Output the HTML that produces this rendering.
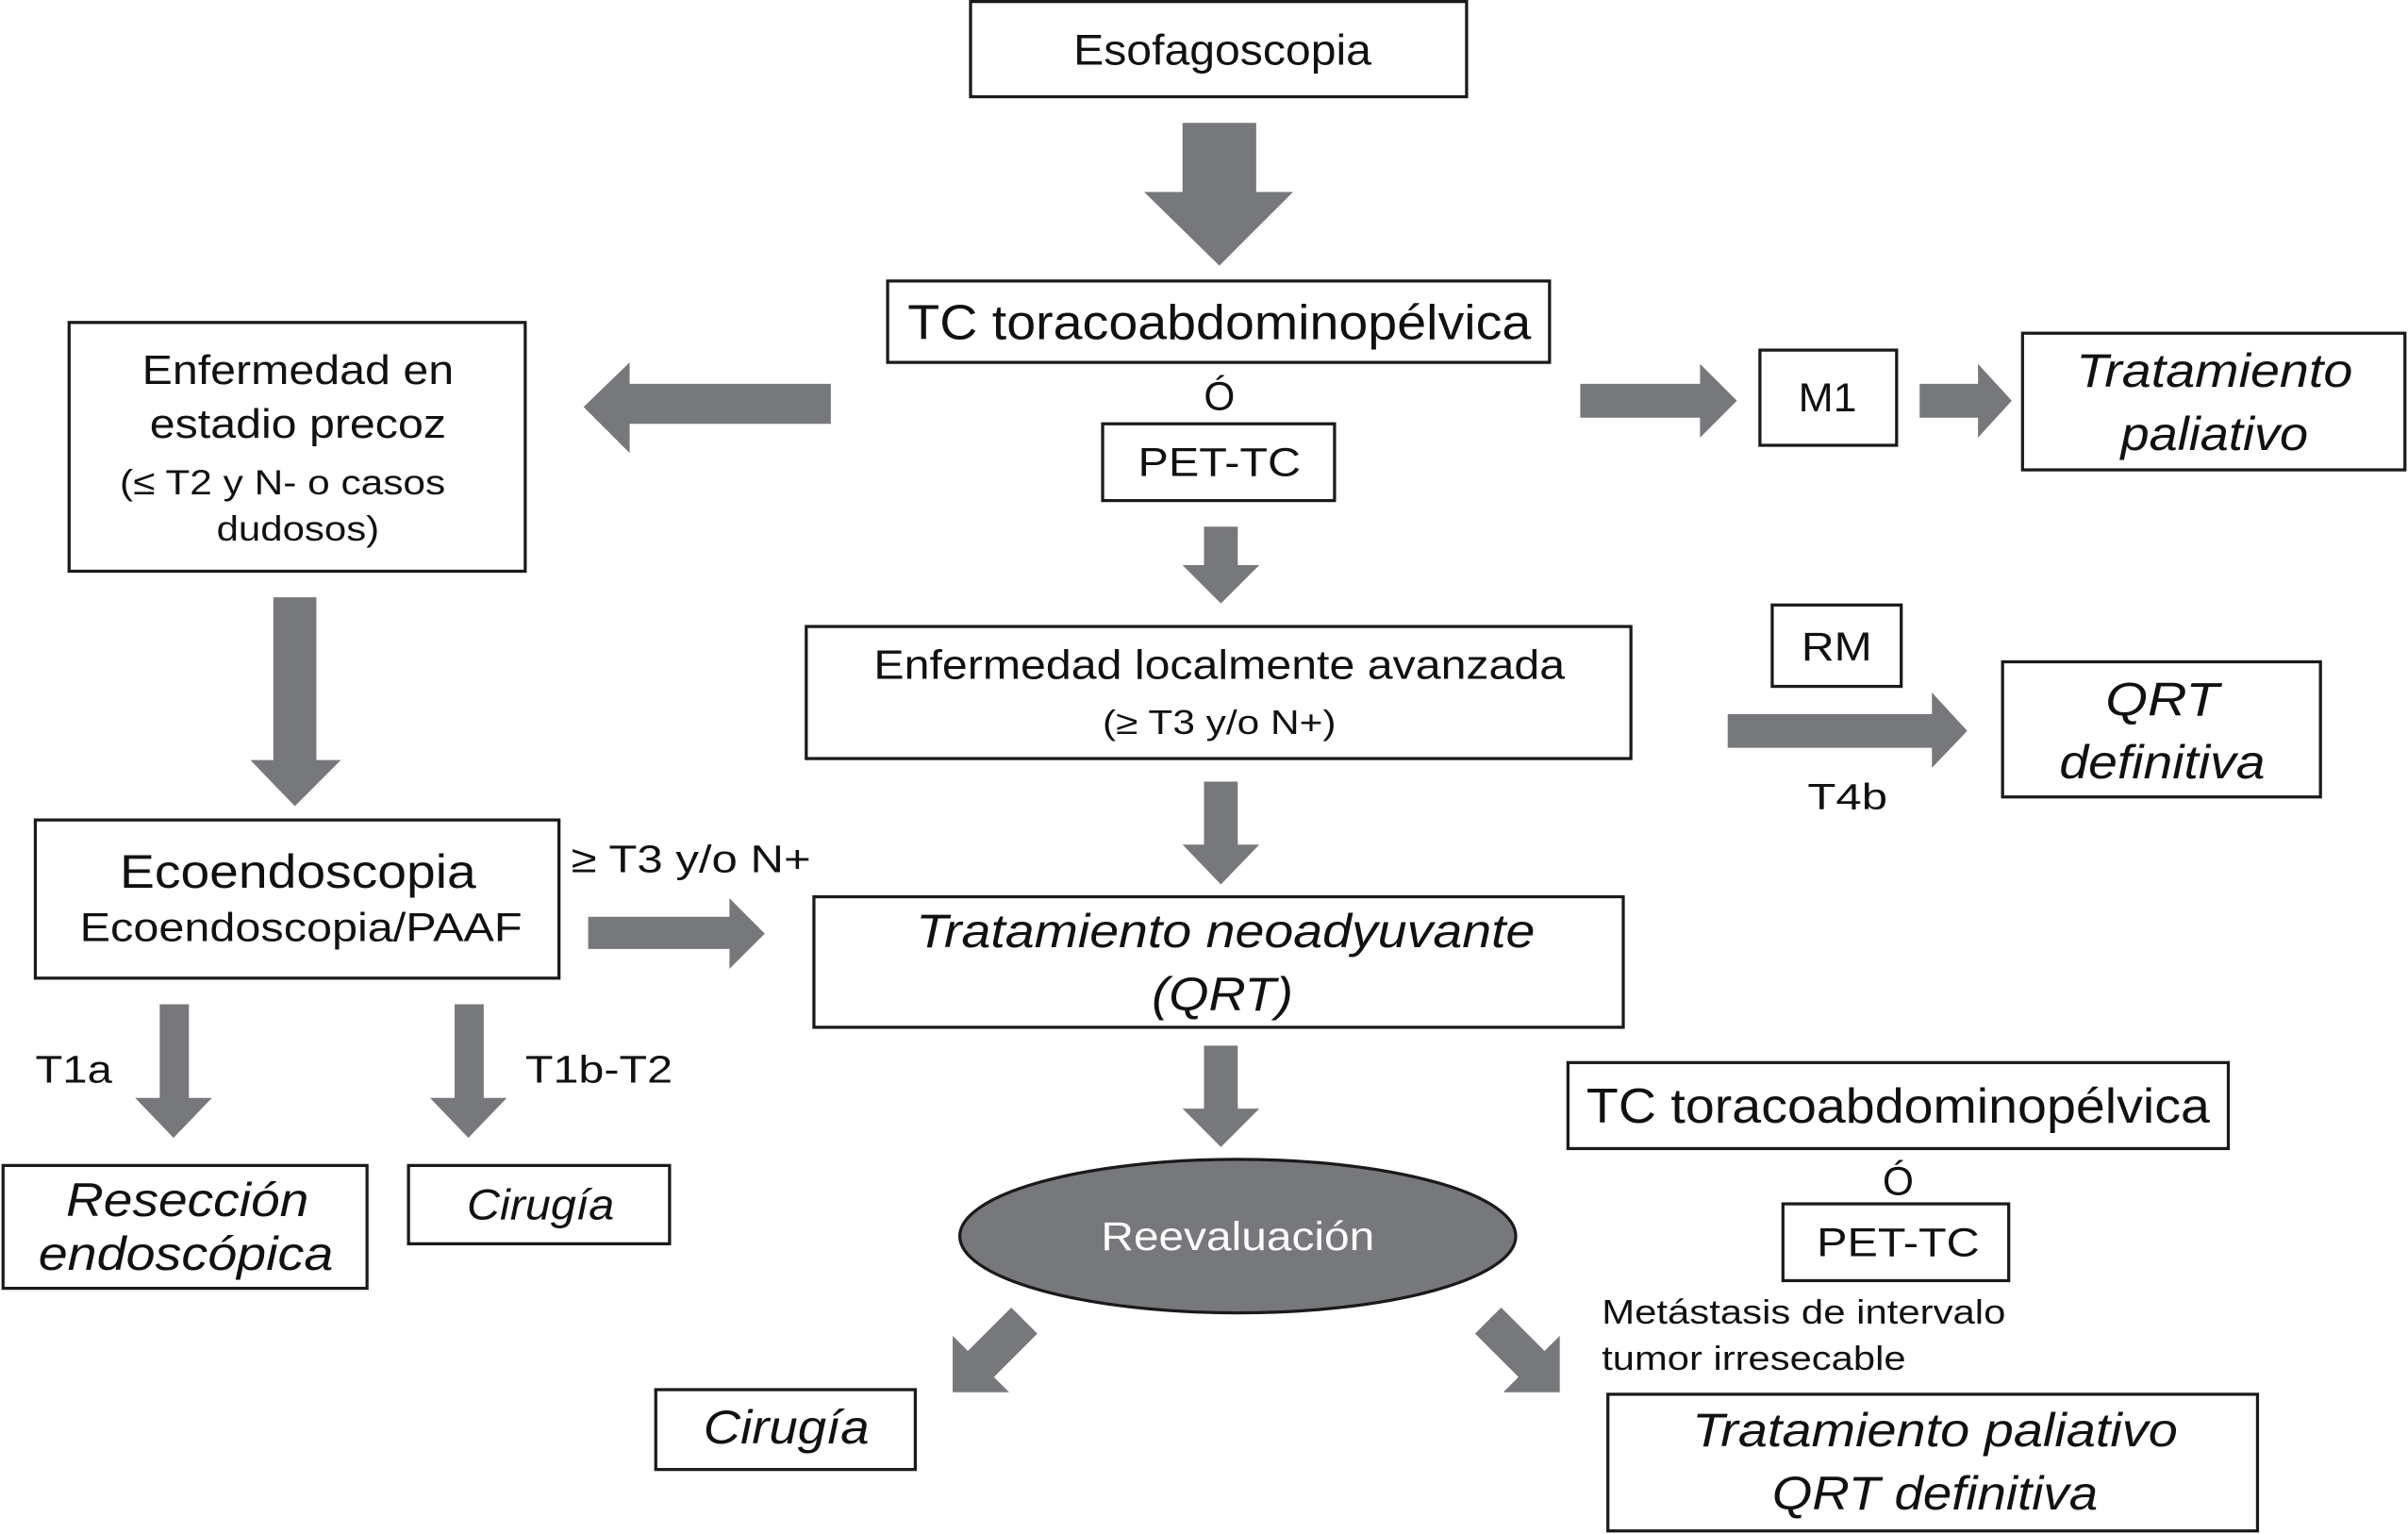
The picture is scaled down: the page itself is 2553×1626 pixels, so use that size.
<!DOCTYPE html>
<html><head><meta charset="utf-8"><style>
html,body{margin:0;padding:0;background:#fff;}
svg{display:block}
text{font-family:"Liberation Sans",Arial,sans-serif;fill:#111;}
.b{fill:#fff;stroke:#1a1a1a;stroke-width:2}
.a{fill:#77787b}
.i{font-style:italic}
</style></head><body>
<svg width="2553" height="1626" viewBox="0 0 1568 999" preserveAspectRatio="none" xmlns="http://www.w3.org/2000/svg">
<rect class="b" x="632" y="1" width="323" height="62"/>
<text x="796" y="42" font-size="28" text-anchor="middle" textLength="194" lengthAdjust="spacingAndGlyphs">Esofagoscopia</text>

<rect class="b" x="578" y="183" width="431" height="53"/>
<text x="794" y="221" font-size="32" text-anchor="middle" textLength="406" lengthAdjust="spacingAndGlyphs">TC toracoabdominopélvica</text>
<text x="794" y="267" font-size="26" text-anchor="middle">Ó</text>
<rect class="b" x="718" y="276" width="151" height="50"/>
<text x="794" y="310" font-size="26" text-anchor="middle" textLength="106" lengthAdjust="spacingAndGlyphs">PET-TC</text>

<rect class="b" x="45" y="210" width="297" height="162"/>
<text x="194" y="250" font-size="27" text-anchor="middle" textLength="203" lengthAdjust="spacingAndGlyphs">Enfermedad en</text>
<text x="194" y="285" font-size="27" text-anchor="middle" textLength="193" lengthAdjust="spacingAndGlyphs">estadio precoz</text>
<text x="184" y="322" font-size="23" text-anchor="middle" textLength="212" lengthAdjust="spacingAndGlyphs">(≤ T2 y N- o casos</text>
<text x="194" y="352" font-size="23" text-anchor="middle" textLength="106" lengthAdjust="spacingAndGlyphs">dudosos)</text>

<rect class="b" x="1146" y="228" width="89" height="62"/>
<text x="1190" y="268" font-size="26" text-anchor="middle" textLength="38" lengthAdjust="spacingAndGlyphs">M1</text>
<rect class="b" x="1317" y="217" width="249" height="89"/>
<text class="i" x="1442" y="252" font-size="31" text-anchor="middle" textLength="180" lengthAdjust="spacingAndGlyphs">Tratamiento</text>
<text class="i" x="1442" y="293" font-size="31" text-anchor="middle" textLength="122" lengthAdjust="spacingAndGlyphs">paliativo</text>

<rect class="b" x="525" y="408" width="537" height="86"/>
<text x="794" y="442" font-size="27" text-anchor="middle" textLength="450" lengthAdjust="spacingAndGlyphs">Enfermedad localmente avanzada</text>
<text x="794" y="478" font-size="22" text-anchor="middle" textLength="152" lengthAdjust="spacingAndGlyphs">(≥ T3 y/o N+)</text>

<rect class="b" x="1154" y="394" width="84" height="53"/>
<text x="1196" y="430" font-size="26" text-anchor="middle" textLength="46" lengthAdjust="spacingAndGlyphs">RM</text>
<rect class="b" x="1304" y="431" width="207" height="88"/>
<text class="i" x="1408" y="466" font-size="31" text-anchor="middle" textLength="74" lengthAdjust="spacingAndGlyphs">QRT</text>
<text class="i" x="1408" y="507" font-size="31" text-anchor="middle" textLength="134" lengthAdjust="spacingAndGlyphs">definitiva</text>
<text x="1203" y="527" font-size="24" text-anchor="middle" textLength="52" lengthAdjust="spacingAndGlyphs">T4b</text>

<rect class="b" x="23" y="534" width="341" height="103"/>
<text x="194" y="578" font-size="31" text-anchor="middle" textLength="232" lengthAdjust="spacingAndGlyphs">Ecoendoscopia</text>
<text x="196" y="613" font-size="26" text-anchor="middle" textLength="288" lengthAdjust="spacingAndGlyphs">Ecoendoscopia/PAAF</text>
<text x="372" y="568" font-size="25" textLength="156" lengthAdjust="spacingAndGlyphs">≥ T3 y/o N+</text>

<rect class="b" x="530" y="584" width="527" height="85"/>
<text class="i" x="798" y="617" font-size="31" text-anchor="middle" textLength="403" lengthAdjust="spacingAndGlyphs">Tratamiento neoadyuvante</text>
<text class="i" x="796" y="658" font-size="31" text-anchor="middle" textLength="92" lengthAdjust="spacingAndGlyphs">(QRT)</text>

<text x="48" y="705" font-size="25" text-anchor="middle" textLength="50" lengthAdjust="spacingAndGlyphs">T1a</text>
<text x="390" y="705" font-size="25" text-anchor="middle" textLength="96" lengthAdjust="spacingAndGlyphs">T1b-T2</text>

<rect class="b" x="2" y="759" width="237" height="80"/>
<text class="i" x="122" y="792" font-size="31" text-anchor="middle" textLength="158" lengthAdjust="spacingAndGlyphs">Resección</text>
<text class="i" x="121" y="827" font-size="31" text-anchor="middle" textLength="192" lengthAdjust="spacingAndGlyphs">endoscópica</text>
<rect class="b" x="266" y="759" width="170" height="51"/>
<text class="i" x="352" y="794" font-size="28" text-anchor="middle" textLength="96" lengthAdjust="spacingAndGlyphs">Cirugía</text>

<ellipse cx="806" cy="805" rx="181" ry="50" fill="#77787b" stroke="#1a1a1a" stroke-width="2"/>
<text x="806" y="814" font-size="26" text-anchor="middle" style="fill:#fff" textLength="178" lengthAdjust="spacingAndGlyphs">Reevaluación</text>

<rect class="b" x="1021" y="692" width="430" height="56"/>
<text x="1236" y="731" font-size="32" text-anchor="middle" textLength="406" lengthAdjust="spacingAndGlyphs">TC toracoabdominopélvica</text>
<text x="1236" y="778" font-size="26" text-anchor="middle">Ó</text>
<rect class="b" x="1161" y="784" width="147" height="50"/>
<text x="1236" y="818" font-size="26" text-anchor="middle" textLength="106" lengthAdjust="spacingAndGlyphs">PET-TC</text>
<text x="1043" y="862" font-size="22" textLength="263" lengthAdjust="spacingAndGlyphs">Metástasis de intervalo</text>
<text x="1043" y="892" font-size="22" textLength="198" lengthAdjust="spacingAndGlyphs">tumor irresecable</text>

<rect class="b" x="427" y="905" width="169" height="52"/>
<text class="i" x="512" y="940" font-size="31" text-anchor="middle" textLength="108" lengthAdjust="spacingAndGlyphs">Cirugía</text>
<rect class="b" x="1047" y="908" width="423" height="89"/>
<text class="i" x="1260" y="942" font-size="31" text-anchor="middle" textLength="316" lengthAdjust="spacingAndGlyphs">Tratamiento paliativo</text>
<text class="i" x="1260" y="983" font-size="31" text-anchor="middle" textLength="212" lengthAdjust="spacingAndGlyphs">QRT definitiva</text>

<polygon class="a" points="770,80 818,80 818,125 842,125 794,173 745,125 770,125"/>
<polygon class="a" points="541,250 410,250 410,236 380,265 410,295 410,276 541,276"/>
<polygon class="a" points="1029,250 1107,250 1107,237 1131,261 1107,285 1107,272 1029,272"/>
<polygon class="a" points="1250,250 1288,250 1288,237 1310,261 1288,285 1288,272 1250,272"/>
<polygon class="a" points="784,343 806,343 806,368 820,368 795,393 770,368 784,368"/>
<polygon class="a" points="784,509 806,509 806,550 820,550 795,576 770,550 784,550"/>
<polygon class="a" points="784,681 806,681 806,722 820,722 795,747 770,722 784,722"/>
<polygon class="a" points="178,389 206,389 206,495 222,495 192,525 163,495 178,495"/>
<polygon class="a" points="1125,465 1258,465 1258,451 1281,476 1258,500 1258,487 1125,487"/>
<polygon class="a" points="383,597 475,597 475,585 498,608 475,631 475,618 383,618"/>
<polygon class="a" points="104,654 123,654 123,715 138,715 113,741 88,715 104,715"/>
<polygon class="a" points="296,654 315,654 315,715 330,715 305,741 280,715 296,715"/>
<g transform="translate(667,860) rotate(135)"><polygon class="a" points="0,-12 40,-12 40,-26 66,0 40,26 40,12 0,12"/></g>
<g transform="translate(969,860) rotate(45)"><polygon class="a" points="0,-12 40,-12 40,-26 66,0 40,26 40,12 0,12"/></g>
</svg>
</body></html>
